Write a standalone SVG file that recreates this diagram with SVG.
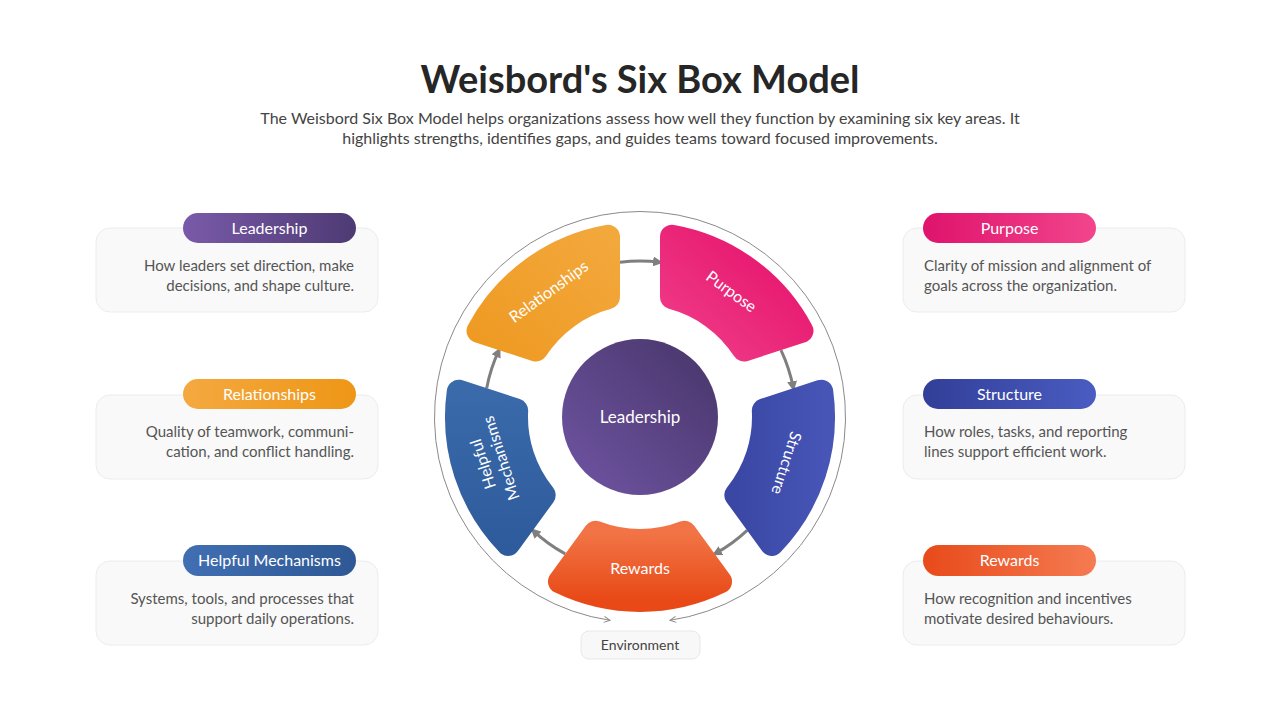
<svg xmlns="http://www.w3.org/2000/svg" width="1280" height="720" viewBox="0 0 1280 720">
<defs>
<style>
text{font-family:"Lato","Liberation Sans",sans-serif}
.title{font-size:38px;font-weight:700;fill:#262626}
.sub{font-size:16px;fill:#444}
.card{fill:#f9f9f9;stroke:#ececec;stroke-width:1}
.pilltxt{font-size:16px;fill:#fff;text-anchor:middle}
.desc{font-size:15px;fill:#555}
.seglbl{font-size:16px;fill:#fff;text-anchor:middle}
.flow{fill:none;stroke:#7f7f7f;stroke-width:3}
.env{fill:none;stroke:#8a8a8a;stroke-width:1}
</style>
<linearGradient id="gLead" x1="0" y1="0" x2="1" y2="0"><stop offset="0" stop-color="#7a5aa9"/><stop offset="1" stop-color="#4d3a73"/></linearGradient>
<linearGradient id="gLeadC" x1="0" y1="1" x2="1" y2="0"><stop offset="0" stop-color="#7055a4"/><stop offset="1" stop-color="#473568"/></linearGradient>
<linearGradient id="gRel" x1="0" y1="0" x2="1" y2="0"><stop offset="0" stop-color="#f4a940"/><stop offset="1" stop-color="#ee9616"/></linearGradient>
<linearGradient id="gRelS" x1="0" y1="1" x2="1" y2="0"><stop offset="0" stop-color="#ee9a22"/><stop offset="1" stop-color="#f3a83c"/></linearGradient>
<linearGradient id="gHelp" x1="0" y1="0" x2="1" y2="0"><stop offset="0" stop-color="#416fb2"/><stop offset="1" stop-color="#2e5895"/></linearGradient>
<linearGradient id="gHelpS" x1="0" y1="0" x2="0" y2="1"><stop offset="0" stop-color="#3a6aaa"/><stop offset="1" stop-color="#2e5b9b"/></linearGradient>
<linearGradient id="gPur" x1="0" y1="0" x2="1" y2="0"><stop offset="0" stop-color="#df136c"/><stop offset="1" stop-color="#f2458c"/></linearGradient>
<linearGradient id="gPurS" x1="1" y1="0" x2="0" y2="1"><stop offset="0" stop-color="#e5106a"/><stop offset="1" stop-color="#f03d88"/></linearGradient>
<linearGradient id="gStr" x1="0" y1="0" x2="1" y2="0"><stop offset="0" stop-color="#323f98"/><stop offset="1" stop-color="#4a5cc2"/></linearGradient>
<linearGradient id="gStrS" x1="0" y1="0" x2="1" y2="0"><stop offset="0" stop-color="#3a47a4"/><stop offset="1" stop-color="#4655b6"/></linearGradient>
<linearGradient id="gRew" x1="0" y1="0" x2="1" y2="0"><stop offset="0" stop-color="#e84a1a"/><stop offset="1" stop-color="#f57b52"/></linearGradient>
<linearGradient id="gRewS" x1="0" y1="0" x2="0" y2="1"><stop offset="0" stop-color="#f27446"/><stop offset="1" stop-color="#e84916"/></linearGradient>
<marker id="ah" markerWidth="10" markerHeight="10" refX="7" refY="5" orient="auto" markerUnits="userSpaceOnUse" viewBox="0 0 10 10"><path d="M0,0 L10,5 L0,10 Z" fill="#7f7f7f"/></marker>
<marker id="ahs" markerWidth="8" markerHeight="8" refX="7" refY="4" orient="auto" markerUnits="userSpaceOnUse" viewBox="0 0 8 8"><path d="M1,1 L7,4 L1,7" fill="none" stroke="#8a8a8a" stroke-width="1"/></marker>
</defs>
<rect width="1280" height="720" fill="#ffffff"/>

<g id="header">
<text class="title" x="640" y="93" text-anchor="middle">Weisbord's Six Box Model</text>
<text class="sub" x="640" y="124" text-anchor="middle">The Weisbord Six Box Model helps organizations assess how well they function by examining six key areas. It</text>
<text class="sub" x="640" y="144" text-anchor="middle">highlights strengths, identifies gaps, and guides teams toward focused improvements.</text>
</g>

<g id="connectors">
<path class="env" d="M640 211.5 A205.5 205.5 0 0 0 610 620.3" marker-end="url(#ahs)"/>
<path class="env" d="M640 211.5 A205.5 205.5 0 0 1 670 620.3" marker-end="url(#ahs)"/>
<path class="flow" d="M619.99 262.29 A156 156 0 0 1 660.01 262.29" marker-end="url(#ah)"/>
<path class="flow" d="M780.96 350.15 A156 156 0 0 1 793.32 388.22" marker-end="url(#ah)"/>
<path class="flow" d="M747.13 530.40 A156 156 0 0 1 714.76 553.92" marker-end="url(#ah)"/>
<path class="flow" d="M565.24 553.92 A156 156 0 0 1 532.87 530.40" marker-end="url(#ah)"/>
<path class="flow" d="M486.68 388.22 A156 156 0 0 1 499.04 350.15" marker-end="url(#ah)"/>
</g>

<g id="seg-relationships">
<path d="M478.52 330.88 A183 183 0 0 1 608.01 236.82 L608.00 297.20 A124 124 0 0 0 535.94 349.54 Z" fill="url(#gRelS)" stroke="url(#gRelS)" stroke-width="24" stroke-linejoin="round"/>
<text class="seglbl" transform="translate(549 292) rotate(-36)" y="5">Relationships</text>
</g>
<g id="seg-purpose">
<path d="M671.99 236.82 A183 183 0 0 1 801.48 330.88 L744.06 349.54 A124 124 0 0 0 672.00 297.20 Z" fill="url(#gPurS)" stroke="url(#gPurS)" stroke-width="24" stroke-linejoin="round"/>
<text class="seglbl" transform="translate(731 292) rotate(36)" y="5">Purpose</text>
</g>
<g id="seg-structure">
<path d="M821.25 391.75 A183 183 0 0 1 771.83 543.93 L736.31 495.11 A124 124 0 0 0 763.83 410.42 Z" fill="url(#gStrS)" stroke="url(#gStrS)" stroke-width="24" stroke-linejoin="round"/>
<text class="seglbl" transform="translate(786 463) rotate(108)" y="5">Structure</text>
</g>
<g id="seg-rewards">
<path d="M720.03 581.57 A183 183 0 0 1 559.97 581.57 L595.48 532.73 A124 124 0 0 0 684.52 532.73 Z" fill="url(#gRewS)" stroke="url(#gRewS)" stroke-width="24" stroke-linejoin="round"/>
<text class="seglbl" x="640" y="574">Rewards</text>
</g>
<g id="seg-helpful">
<path d="M508.17 543.93 A183 183 0 0 1 458.75 391.75 L516.17 410.42 A124 124 0 0 0 543.69 495.11 Z" fill="url(#gHelpS)" stroke="url(#gHelpS)" stroke-width="24" stroke-linejoin="round"/>
<text class="seglbl" transform="translate(492 461) rotate(-108)"><tspan x="0" y="-4">Helpful</tspan><tspan x="0" y="15">Mechanisms</tspan></text>
</g>
<g id="center-leadership">
<circle cx="640" cy="417" r="78" fill="url(#gLeadC)"/>
<text x="640" y="423" text-anchor="middle" style="font-size:17px;fill:#fff">Leadership</text>
</g>
<g id="environment">
<rect x="581" y="631" width="119" height="28" rx="8" fill="#f8f8f8" stroke="#e8e8e8"/>
<text x="640" y="650" text-anchor="middle" style="font-size:14px;fill:#444">Environment</text>
</g>

<g id="card-leadership">
<rect class="card" x="96" y="228" width="282" height="84" rx="14"/>
<rect x="183" y="213" width="173" height="30" rx="15" fill="url(#gLead)"/>
<text class="pilltxt" x="269.5" y="233.5">Leadership</text>
<text class="desc" text-anchor="end" x="354" y="271">How leaders set direction, make</text>
<text class="desc" text-anchor="end" x="354" y="291">decisions, and shape culture.</text>
</g>
<g id="card-relationships">
<rect class="card" x="96" y="395" width="282" height="84" rx="14"/>
<rect x="183" y="379" width="173" height="30" rx="15" fill="url(#gRel)"/>
<text class="pilltxt" x="269.5" y="399.5">Relationships</text>
<text class="desc" text-anchor="end" x="354" y="437">Quality of teamwork, communi-</text>
<text class="desc" text-anchor="end" x="354" y="457">cation, and conflict handling.</text>
</g>
<g id="card-helpful">
<rect class="card" x="96" y="561" width="282" height="84" rx="14"/>
<rect x="183" y="545" width="173" height="31" rx="15.5" fill="url(#gHelp)"/>
<text class="pilltxt" x="269.5" y="566">Helpful Mechanisms</text>
<text class="desc" text-anchor="end" x="354" y="604">Systems, tools, and processes that</text>
<text class="desc" text-anchor="end" x="354" y="624">support daily operations.</text>
</g>
<g id="card-purpose">
<rect class="card" x="903" y="228" width="282" height="84" rx="14"/>
<rect x="923" y="213" width="173" height="30" rx="15" fill="url(#gPur)"/>
<text class="pilltxt" x="1009.5" y="233.5">Purpose</text>
<text class="desc" x="924" y="271">Clarity of mission and alignment of</text>
<text class="desc" x="924" y="291">goals across the organization.</text>
</g>
<g id="card-structure">
<rect class="card" x="903" y="395" width="282" height="84" rx="14"/>
<rect x="923" y="379" width="173" height="30" rx="15" fill="url(#gStr)"/>
<text class="pilltxt" x="1009.5" y="399.5">Structure</text>
<text class="desc" x="924" y="437">How roles, tasks, and reporting</text>
<text class="desc" x="924" y="457">lines support efficient work.</text>
</g>
<g id="card-rewards">
<rect class="card" x="903" y="561" width="282" height="84" rx="14"/>
<rect x="923" y="545" width="173" height="31" rx="15.5" fill="url(#gRew)"/>
<text class="pilltxt" x="1009.5" y="566">Rewards</text>
<text class="desc" x="924" y="604">How recognition and incentives</text>
<text class="desc" x="924" y="624">motivate desired behaviours.</text>
</g>
</svg>
